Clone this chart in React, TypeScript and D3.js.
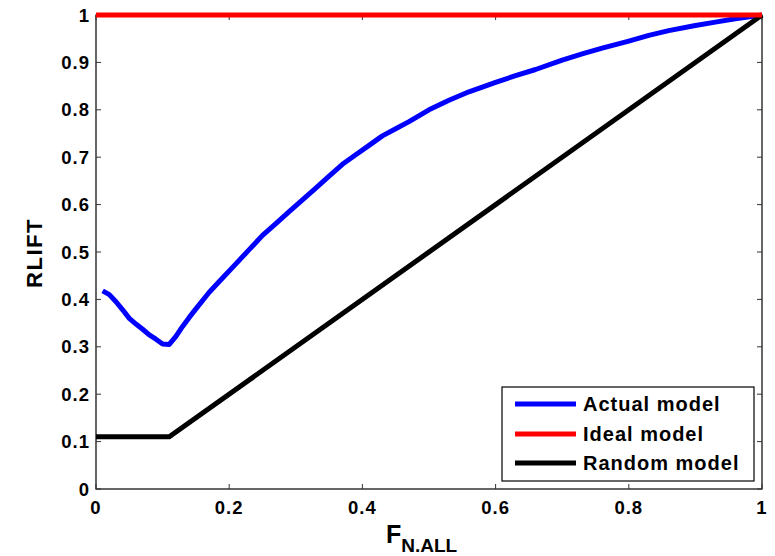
import React from "react";
import * as d3 from "d3";

const actualX = [0.01, 0.02, 0.03, 0.04, 0.05, 0.06, 0.07, 0.08, 0.09, 0.1, 0.11, 0.12, 0.13, 0.14, 0.15, 0.17, 0.19, 0.21, 0.23, 0.25, 0.27, 0.29, 0.31, 0.33, 0.35, 0.37, 0.39, 0.41, 0.43, 0.45, 0.47, 0.5, 0.53, 0.56, 0.6, 0.63, 0.66, 0.7, 0.73, 0.76, 0.8, 0.83, 0.86, 0.9, 0.93, 0.96, 1.0];
const actualY = [0.418, 0.41, 0.395, 0.378, 0.36, 0.348, 0.337, 0.325, 0.316, 0.306, 0.305, 0.322, 0.343, 0.362, 0.38, 0.415, 0.445, 0.475, 0.505, 0.535, 0.56, 0.585, 0.61, 0.635, 0.66, 0.685, 0.705, 0.725, 0.745, 0.76, 0.775, 0.8, 0.82, 0.838, 0.858, 0.872, 0.885, 0.905, 0.918, 0.93, 0.945, 0.957, 0.967, 0.978, 0.985, 0.992, 1.0];
const idealX = [0, 1];
const idealY = [1, 1];
const randomX = [0, 0.11, 1];
const randomY = [0.11, 0.11, 1];
const xTicks = [0, 0.2, 0.4, 0.6, 0.8, 1];
const yTicks = [0, 0.1, 0.2, 0.3, 0.4, 0.5, 0.6, 0.7, 0.8, 0.9, 1];
const seriesNames = ["Actual model", "Ideal model", "Random model"];
const seriesColors = ["#0000ff", "#ff0000", "#000000"];

export default function App() {
  const W = 775, H = 556;
  const left = 96, right = 762, top = 15, bottom = 489;
  const x = d3.scaleLinear().domain([0, 1]).range([left, right]);
  const y = d3.scaleLinear().domain([0, 1]).range([bottom, top]);
  const line = d3.line<[number, number]>().x(d => x(d[0])).y(d => y(d[1]));
  const zip = (a: number[], b: number[]) => a.map((v, i) => [v, b[i]] as [number, number]);
  const series = [zip(actualX, actualY), zip(idealX, idealY), zip(randomX, randomY)];
  const font = "Arial, 'Liberation Sans', sans-serif";
  const tick = 5;

  const legX = 502, legY = 387, legW = 252, legH = 94;
  const rows = [404, 434, 463];

  return (
    <svg width={W} height={H} style={{ position: "absolute", left: 0, top: 0, background: "#fff" }} fontFamily={font}>
      <rect x={0} y={0} width={W} height={H} fill="#fff" />
      <rect x={left} y={top} width={right - left} height={bottom - top} fill="none" stroke="#000" strokeWidth={1.2} />
      {xTicks.map(t => (
        <g key={"x" + t}>
          <line x1={x(t)} x2={x(t)} y1={bottom} y2={bottom - tick} stroke="#333" />
          <line x1={x(t)} x2={x(t)} y1={top} y2={top + tick} stroke="#333" />
          <text x={x(t)} y={514} textAnchor="middle" fontSize={18.5} fontWeight="bold" letterSpacing={1}>{String(t)}</text>
        </g>
      ))}
      {yTicks.map(t => (
        <g key={"y" + t}>
          <line x1={left} x2={left + tick} y1={y(t)} y2={y(t)} stroke="#333" />
          <line x1={right} x2={right - tick} y1={y(t)} y2={y(t)} stroke="#333" />
          <text x={90} y={y(t) + 6.5} textAnchor="end" fontSize={18.5} fontWeight="bold" letterSpacing={1}>{String(t)}</text>
        </g>
      ))}
      <path d={line(series[0]) || ""} fill="none" stroke={seriesColors[0]} strokeWidth={5} strokeLinejoin="round" />
      <path d={line(series[2]) || ""} fill="none" stroke={seriesColors[2]} strokeWidth={5} />
      <path d={line(series[1]) || ""} fill="none" stroke={seriesColors[1]} strokeWidth={5} />
      <text transform={`translate(42,253) rotate(-90)`} textAnchor="middle" fontSize={22} fontWeight="bold" letterSpacing={1.5}>RLIFT</text>
      <text x={386} y={543} fontSize={25} fontWeight="bold">F<tspan dy={9} fontSize={19}>N.ALL</tspan></text>
      <rect x={legX} y={legY} width={legW} height={legH} fill="#fff" stroke="#000" strokeWidth={1.2} />
      {seriesNames.map((n, i) => (
        <g key={n}>
          <line x1={515} x2={576} y1={rows[i]} y2={rows[i]} stroke={seriesColors[i]} strokeWidth={5} />
          <text x={583} y={rows[i] + 7} fontSize={20} fontWeight="bold" letterSpacing={1}>{n}</text>
        </g>
      ))}
    </svg>
  );
}
